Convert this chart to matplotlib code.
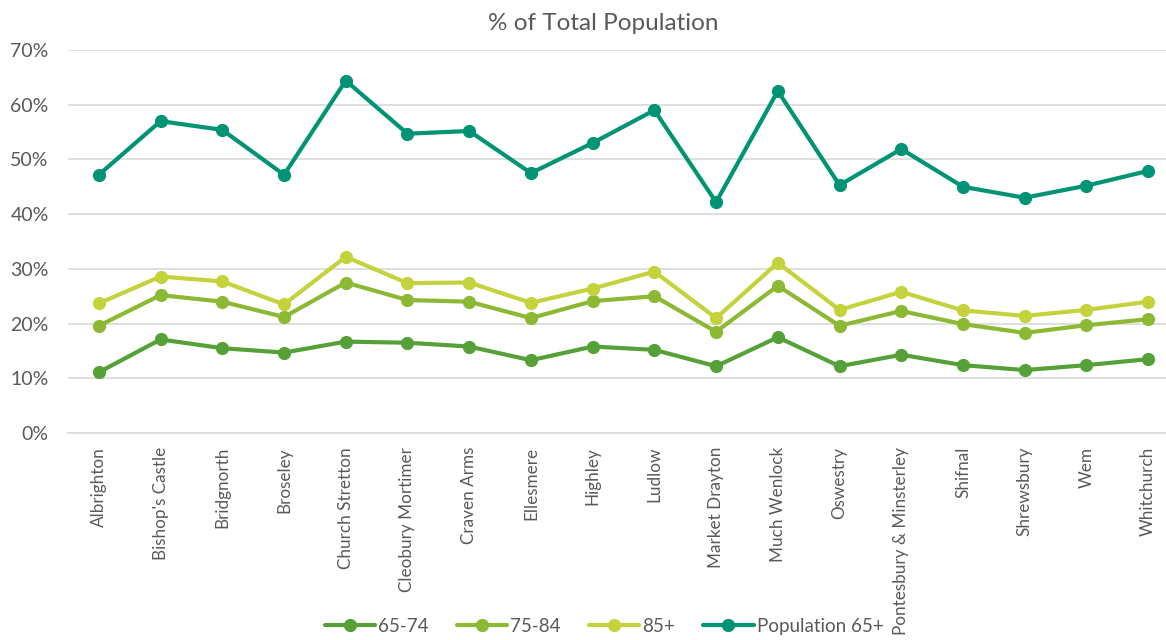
import matplotlib
matplotlib.use("Agg")
import matplotlib.pyplot as plt
from matplotlib.ticker import PercentFormatter

plt.rcParams['font.family'] = ['Lato', 'DejaVu Sans']

# localidades de Shropshire
towns = ["Albrighton", "Bishop's Castle", "Bridgnorth", "Broseley",
         "Church Stretton", "Cleobury Mortimer", "Craven Arms", "Ellesmere",
         "Highley", "Ludlow", "Market Drayton", "Much Wenlock", "Oswestry",
         "Pontesbury & Minsterley", "Shifnal", "Shrewsbury", "Wem", "Whitchurch"]

# porcentaje de la poblacion total por grupo de edad
age_65_74 = [11.1, 17.1, 15.5, 14.7, 16.7, 16.5, 15.8, 13.3, 15.8,
             15.2, 12.2, 17.5, 12.2, 14.3, 12.4, 11.5, 12.4, 13.5]
age_75_84 = [19.6, 25.2, 24.0, 21.2, 27.5, 24.3, 24.0, 21.0, 24.1,
             25.0, 18.5, 26.9, 19.6, 22.3, 19.9, 18.3, 19.7, 20.8]
age_85_plus = [23.7, 28.6, 27.7, 23.5, 32.2, 27.4, 27.5, 23.8, 26.4,
               29.5, 21.0, 31.1, 22.5, 25.8, 22.4, 21.4, 22.5, 24.0]
pop_65_plus = [47.2, 57.0, 55.4, 47.2, 64.4, 54.7, 55.2, 47.5, 53.0,
               59.0, 42.2, 62.5, 45.3, 51.9, 45.0, 43.0, 45.2, 47.9]

series = [
    ("65-74", age_65_74, "#56A038"),
    ("75-84", age_75_84, "#8CB933"),
    ("85+", age_85_plus, "#C4D23C"),
    ("Population 65+", pop_65_plus, "#009374"),
]

grey = "#595959"

fig = plt.figure(figsize=(11.66, 6.4), dpi=100)
ax = fig.add_axes([68 / 1166, 207 / 640, 1111 / 1166, 383 / 640])

x = list(range(len(towns)))
for label, values, color in series:
    ax.plot(x, values, color=color, lw=3.0, marker="o", ms=8.5,
            label=label, solid_capstyle="round", clip_on=False)

ax.set_xlim(-0.5, len(towns) - 0.5)
ax.set_ylim(0, 70)
ax.set_yticks(range(0, 71, 10))
ax.yaxis.set_major_formatter(PercentFormatter(decimals=0))
ax.grid(axis="y", color="#D9D9D9", lw=1.2)
ax.set_axisbelow(True)
for s in ["top", "right", "left"]:
    ax.spines[s].set_visible(False)
ax.spines["bottom"].set_color("#D9D9D9")
ax.spines["bottom"].set_linewidth(1.2)

ax.set_xticks(x)
ax.set_xticklabels(towns, rotation=90, va="top", ha="center")
ax.tick_params(axis="both", length=0, colors=grey)
ax.tick_params(axis="x", pad=10, labelsize=12.3)
ax.tick_params(axis="y", pad=14, labelsize=14)

fig.text(0.517, 0.963, "% of Total Population", ha="center", va="center",
         color=grey, fontsize=17.5)

fig.legend(loc="center", bbox_to_anchor=(0.518, 0.021), ncol=4, frameon=False,
           fontsize=13.5, labelcolor=grey, handlelength=2.7, columnspacing=1.5,
           handletextpad=0.15, borderpad=0.2)

fig.savefig("out.png", dpi=100)
